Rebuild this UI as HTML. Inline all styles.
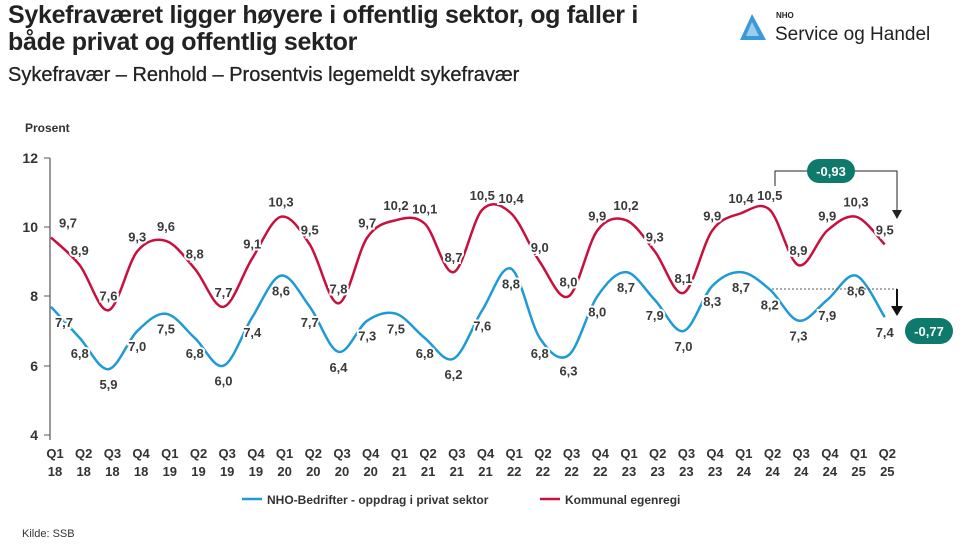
<!DOCTYPE html>
<html><head><meta charset="utf-8"><style>
body{margin:0;width:960px;height:548px;background:#fff;font-family:"Liberation Sans",sans-serif;overflow:hidden;position:relative}
.t{position:absolute;left:8px;top:2px;font-size:25px;line-height:27px;color:#222;font-weight:bold;letter-spacing:-0.3px}
.s{position:absolute;left:8px;top:64px;font-size:20px;color:#222;-webkit-text-stroke:0.3px #222}
.k{position:absolute;left:22px;top:528px;font-size:11px;color:#333}
</style></head><body>
<div class="t">Sykefraværet ligger høyere i offentlig sektor, og faller i<br>både privat og offentlig sektor</div>
<div class="s">Sykefravær – Renhold – Prosentvis legemeldt sykefravær</div>
<div class="k">Kilde: SSB</div>
<svg width="960" height="548" style="position:absolute;left:0;top:0" font-family="Liberation Sans, sans-serif">
<g transform="translate(740,14)"><path d="M12,0 L26,26 L0,26 Z" fill="#3a9ad9"/><path d="M12,8 L19,22 L6,22Z" fill="#fff" opacity=".5"/></g>
<text x="776" y="18" font-size="8" font-weight="bold" fill="#222">NHO</text>
<text x="775" y="40" font-size="19" fill="#222">Service og Handel</text>
<text x="25" y="132" font-size="12" font-weight="bold" fill="#333">Prosent</text>
<line x1="50" y1="158" x2="50" y2="440" stroke="#555" stroke-width="1.2"/>
<g font-size="14" font-weight="bold" fill="#333" text-anchor="end">
<text x="38" y="163">12</text><line x1="44" x2="50" y1="158" y2="158" stroke="#555"/>
<text x="38" y="232">10</text><line x1="44" x2="50" y1="227" y2="227" stroke="#555"/>
<text x="38" y="301">8</text><line x1="44" x2="50" y1="296" y2="296" stroke="#555"/>
<text x="38" y="371">6</text><line x1="44" x2="50" y1="366" y2="366" stroke="#555"/>
<text x="38" y="440">4</text><line x1="44" x2="50" y1="435" y2="435" stroke="#555"/>
</g>
<path id="pr" fill="none" stroke="#c8103e" stroke-width="2.5"/>
<path id="pb" fill="none" stroke="#1e9ad6" stroke-width="2.5"/>
<g id="rl" font-size="13" font-weight="bold" fill="#3a3a3a" text-anchor="middle">
<text>9,7</text><text>8,9</text><text>7,6</text><text>9,3</text><text>9,6</text><text>8,8</text><text>7,7</text><text>9,1</text><text>10,3</text><text>9,5</text><text>7,8</text><text>9,7</text><text>10,2</text><text>10,1</text><text>8,7</text><text>10,5</text><text>10,4</text><text>9,0</text><text>8,0</text><text>9,9</text><text>10,2</text><text>9,3</text><text>8,1</text><text>9,9</text><text>10,4</text><text>10,5</text><text>8,9</text><text>9,9</text><text>10,3</text><text>9,5</text>
</g>
<g id="bl" font-size="13" font-weight="bold" fill="#3a3a3a" text-anchor="middle">
<text>7,7</text><text>6,8</text><text>5,9</text><text>7,0</text><text>7,5</text><text>6,8</text><text>6,0</text><text>7,4</text><text>8,6</text><text>7,7</text><text>6,4</text><text>7,3</text><text>7,5</text><text>6,8</text><text>6,2</text><text>7,6</text><text>8,8</text><text>6,8</text><text>6,3</text><text>8,0</text><text>8,7</text><text>7,9</text><text>7,0</text><text>8,3</text><text>8,7</text><text>8,2</text><text>7,3</text><text>7,9</text><text>8,6</text><text>7,4</text>
</g>
<g id="xt" font-size="13" font-weight="bold" fill="#333" text-anchor="middle">
<text>Q1</text><text>Q2</text><text>Q3</text><text>Q4</text><text>Q1</text><text>Q2</text><text>Q3</text><text>Q4</text><text>Q1</text><text>Q2</text><text>Q3</text><text>Q4</text><text>Q1</text><text>Q2</text><text>Q3</text><text>Q4</text><text>Q1</text><text>Q2</text><text>Q3</text><text>Q4</text><text>Q1</text><text>Q2</text><text>Q3</text><text>Q4</text><text>Q1</text><text>Q2</text><text>Q3</text><text>Q4</text><text>Q1</text><text>Q2</text>
</g>
<g id="yt" font-size="13" font-weight="bold" fill="#333" text-anchor="middle">
<text>18</text><text>18</text><text>18</text><text>18</text><text>19</text><text>19</text><text>19</text><text>19</text><text>20</text><text>20</text><text>20</text><text>20</text><text>21</text><text>21</text><text>21</text><text>21</text><text>22</text><text>22</text><text>22</text><text>22</text><text>23</text><text>23</text><text>23</text><text>23</text><text>24</text><text>24</text><text>24</text><text>24</text><text>25</text><text>25</text>
</g>
<polyline points="775,186 775,171 897,171 897,212" fill="none" stroke="#222" stroke-width="1"/>
<path d="M892,210 L902,210 L897,219Z" fill="#222"/>
<rect x="807" y="159" width="48" height="24" rx="12" fill="#0e7a6b"/>
<text x="831" y="176" font-size="13" font-weight="bold" fill="#fff" text-anchor="middle">-0,93</text>
<line x1="772" y1="289" x2="897" y2="289" stroke="#555" stroke-dasharray="2,2"/>
<line x1="897" y1="289" x2="897" y2="308" stroke="#111" stroke-width="2"/>
<path d="M891,306 L903,306 L897,316Z" fill="#111"/>
<rect x="905" y="318" width="48" height="26" rx="13" fill="#0e7a6b"/>
<text x="929" y="336" font-size="13" font-weight="bold" fill="#fff" text-anchor="middle">-0,77</text>
<line x1="242" y1="499" x2="262" y2="499" stroke="#1e9ad6" stroke-width="2.5"/>
<text x="267" y="504" font-size="12" font-weight="bold" fill="#333">NHO-Bedrifter - oppdrag i privat sektor</text>
<line x1="540" y1="499" x2="560" y2="499" stroke="#c8103e" stroke-width="2.5"/>
<text x="565" y="504" font-size="12" font-weight="bold" fill="#333">Kommunal egenregi</text>
</svg>
<script>
var R=[9.7,8.9,7.6,9.3,9.6,8.8,7.7,9.1,10.3,9.5,7.8,9.7,10.2,10.1,8.7,10.5,10.4,9.0,8.0,9.9,10.2,9.3,8.1,9.9,10.4,10.5,8.9,9.9,10.3,9.5];
var B=[7.7,6.8,5.9,7.0,7.5,6.8,6.0,7.4,8.6,7.7,6.4,7.3,7.5,6.8,6.2,7.6,8.8,6.8,6.3,8.0,8.7,7.9,7.0,8.3,8.7,8.2,7.3,7.9,8.6,7.4];
function X(i){return 51+28.75*i}function Y(v){return 435-(v-4)*34.65}
function path(a){var p=a.map(function(v,i){return[X(i),Y(v)]});var d="M"+p[0];
for(var i=0;i<p.length-1;i++){var p0=p[i-1]||p[i],p1=p[i],p2=p[i+1],p3=p[i+2]||p2;
d+=" C"+(p1[0]+(p2[0]-p0[0])/6)+","+(p1[1]+(p2[1]-p0[1])/6)+" "+(p2[0]-(p3[0]-p1[0])/6)+","+(p2[1]-(p3[1]-p1[1])/6)+" "+p2;}return d;}
document.getElementById('pr').setAttribute('d',path(R));
document.getElementById('pb').setAttribute('d',path(B));
function place(id,a,dy,dx0){var t=document.getElementById(id).children;for(var i=0;i<t.length;i++){
t[i].setAttribute('x',X(i)+(i==0?dx0:0));t[i].setAttribute('y',Y(a[i])+dy);t[i].setAttribute('paint-order','stroke');t[i].setAttribute('stroke','#fff');t[i].setAttribute('stroke-width','4');}}
place('rl',R,-10,17);place('bl',B,20,13);
var xt=document.getElementById('xt').children,yt=document.getElementById('yt').children;
for(var i=0;i<30;i++){xt[i].setAttribute('x',55+28.7*i);xt[i].setAttribute('y',458);yt[i].setAttribute('x',55+28.7*i);yt[i].setAttribute('y',476);}
</script>
</body></html>
